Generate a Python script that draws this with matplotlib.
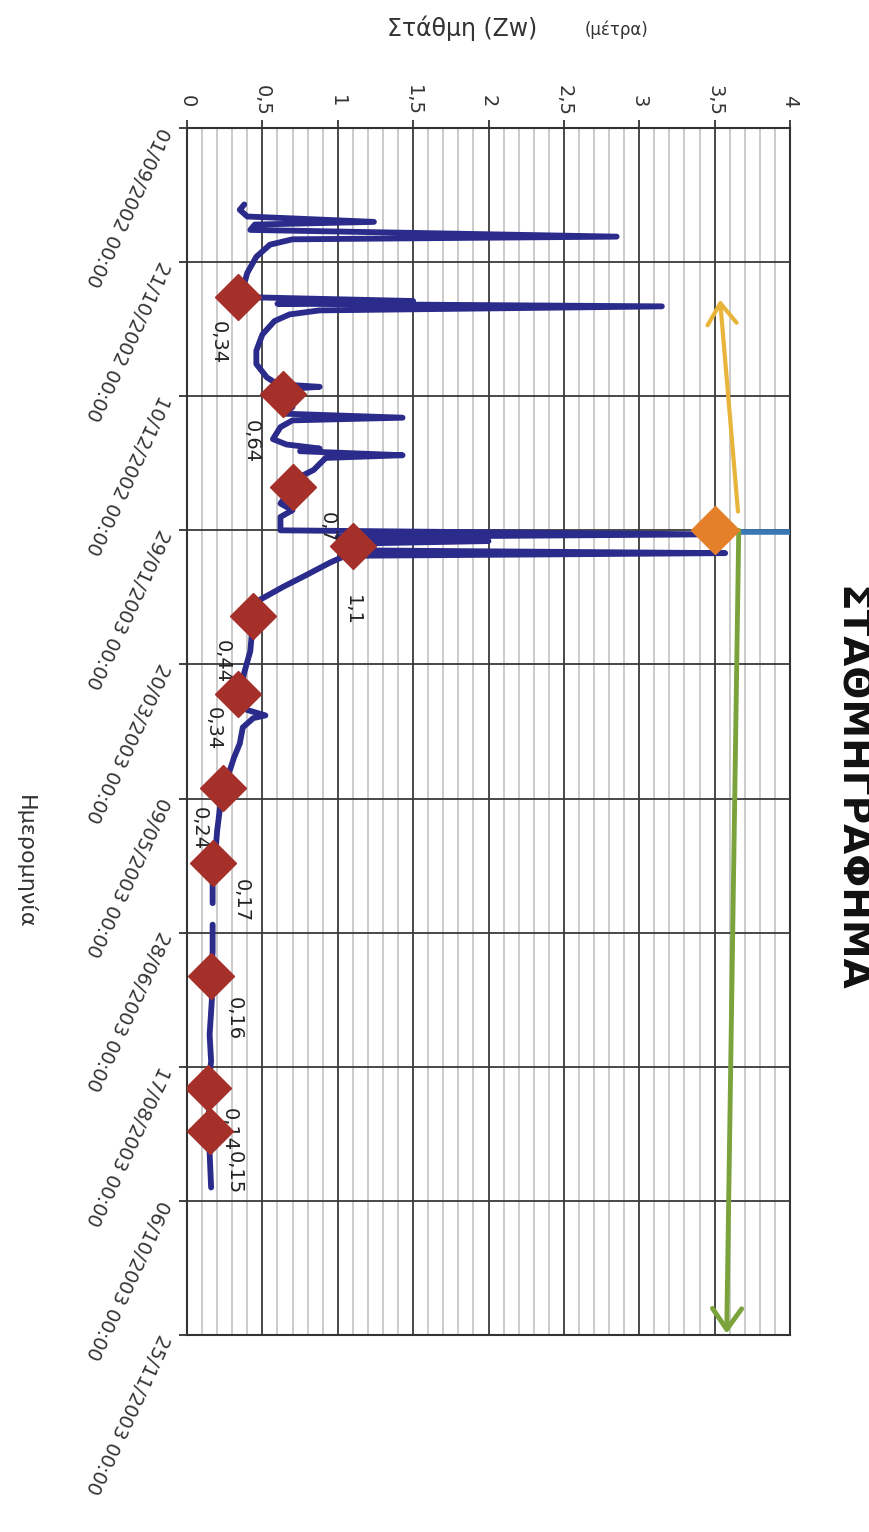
import matplotlib
matplotlib.use('Agg')
import matplotlib.pyplot as plt
import matplotlib.dates as mdates
import numpy as np
import pandas as pd
from matplotlib.ticker import MultipleLocator

plt.rcParams['font.family'] = ['DejaVu Sans']

# water level series (Zw, m) - None marks a gap in the record
level_dates = [
    '2002-09-29 12:00', '2002-10-01 12:00', '2002-10-04', '2002-10-06', '2002-10-07',
    '2002-10-09', '2002-10-11 12:00', '2002-10-12 12:00', '2002-10-14 12:00', '2002-10-19',
    '2002-10-25', '2002-10-29', '2002-11-03', '2002-11-04 12:00', '2002-11-05 12:00',
    '2002-11-06 12:00', '2002-11-08', '2002-11-09 12:00', '2002-11-12', '2002-11-17',
    '2002-11-23', '2002-11-28', '2002-12-03', '2002-12-05 12:00', '2002-12-06 12:00',
    '2002-12-07 12:00', '2002-12-09', '2002-12-14', '2002-12-16 12:00', '2002-12-18',
    '2002-12-19', '2002-12-21 12:00', '2002-12-26', '2002-12-28', '2002-12-29 12:00',
    '2002-12-30 12:00', '2003-01-01', '2003-01-02', '2003-01-06 12:00', '2003-01-09',
    '2003-01-13', '2003-01-19', '2003-01-21 12:00', '2003-01-24', '2003-01-29',
    '2003-01-30 12:00', '2003-01-31 12:00', '2003-02-02', '2003-02-03', '2003-02-04',
    '2003-02-05 12:00', '2003-02-06 12:00', '2003-02-07 12:00', '2003-02-10', '2003-02-15',
    '2003-02-19', '2003-02-24', '2003-03-01', '2003-03-02', '2003-03-15',
    '2003-03-23', '2003-03-28', '2003-03-31', '2003-04-06', '2003-04-08',
    '2003-04-09', '2003-04-12 12:00', '2003-04-18 12:00', '2003-04-24', '2003-04-27 12:00',
    '2003-05-05', '2003-05-12', '2003-05-21', '2003-05-28', '2003-06-02',
    '2003-06-04', '2003-06-06', '2003-06-09', '2003-06-17', '2003-06-21',
    '2003-06-25', '2003-07-05', '2003-07-14', '2003-07-23', '2003-08-05',
    '2003-08-15', '2003-08-25', '2003-09-10', '2003-09-18', '2003-10-01',
]
level_values = [
    0.38, 0.35, 0.40, 1.24, 0.45,
    0.42, 2.85, 0.70, 0.55, 0.46,
    0.40, 0.38, 0.34, 1.50, 0.60,
    3.15, 0.88, 0.68, 0.58, 0.50,
    0.46, 0.46, 0.53, 0.60, 0.88,
    0.60, 0.64, 0.70, 0.64, 1.43,
    0.70, 0.62, 0.57, 0.66, 0.88,
    0.75, 1.43, 0.92, 0.84, 0.75,
    0.70, 0.62, 0.70, 0.62, 0.62,
    3.45, 1.00, 2.00, 1.05, 1.10,
    1.20, 3.57, 1.05, 0.95, 0.78,
    0.64, 0.48, 0.43, 0.44, 0.42,
    0.38, 0.36, 0.34, 0.40, 0.52,
    0.44, 0.37, 0.35, 0.31, 0.29,
    0.24, 0.22, 0.20, 0.19, 0.17,
    0.17, None, 0.17, 0.17, None,
    0.17, 0.17, 0.16, 0.165, 0.15,
    0.16, 0.14, 0.15, 0.15, 0.16,
]

# measured points
point_dates = ['2002-11-03', '2002-12-09', '2003-01-13', '2003-02-04', '2003-03-02',
               '2003-03-31', '2003-05-05', '2003-06-02', '2003-07-14', '2003-08-25',
               '2003-09-10']
point_values = [0.34, 0.64, 0.70, 1.10, 0.44, 0.34, 0.24, 0.17, 0.16, 0.14, 0.15]
point_labels = ['0,34', '0,64', '0,7', '1,1', '0,44', '0,34', '0,24', '0,17', '0,16',
                '0,14', '0,15']
# label offsets in pixels (right, down)
label_offsets = [(-20, 46), (-32, 48), (35, 40), (0, 64), (-31, 45), (-25, 35),
                 (-24, 41), (29, 38), (23, 43), (21, 41), (25, 41)]

peak_date = '2003-01-29'
peak_value = 3.5

# drawn markers
marker_line_values = [3.655, 4.0]
marker_line_date = '2003-01-29 16:00'
up_arrow = [(3.655, '2003-01-22'), (3.536, '2002-11-04')]
down_arrow = [(3.66, '2003-01-29'), (3.58, '2003-11-24 12:00')]

tick_dates = ['2002-09-01', '2002-10-21', '2002-12-10', '2003-01-29', '2003-03-20',
              '2003-05-09', '2003-06-28', '2003-08-17', '2003-10-06', '2003-11-25']
value_ticks = [0, 0.5, 1, 1.5, 2, 2.5, 3, 3.5, 4]
value_tick_labels = ['0', '0,5', '1', '1,5', '2', '2,5', '3', '3,5', '4']


def dnum(s):
    return mdates.date2num(pd.to_datetime(s))


fig = plt.figure(figsize=(8.7, 15.32), dpi=100)
ax = fig.add_axes([187 / 870, 1 - 1335 / 1532, 603 / 870, 1207 / 1532])

lv = np.array(level_values, dtype=float)
ld = np.array([dnum(s) for s in level_dates])
ax.plot(lv, ld, color='#2b2b8c', lw=4.2, solid_capstyle='round',
        solid_joinstyle='round', zorder=3)

pd_num = [dnum(s) for s in point_dates]
for v, d, lab, (dx, dy) in zip(point_values, pd_num, point_labels, label_offsets):
    ax.annotate(lab, (v, d), xytext=(dx * 0.72, -dy * 0.72), textcoords='offset points',
                rotation=-90, ha='center', va='center', fontsize=14, color='#222222',
                zorder=4)
ax.plot(point_values, pd_num, linestyle='none', marker='D', ms=23,
        color='#a5302a', mec='#a5302a', zorder=5)

ax.plot(marker_line_values, [dnum(marker_line_date)] * 2, color='#3a78b5', lw=4, zorder=4)
ax.annotate('', xy=(up_arrow[1][0], dnum(up_arrow[1][1])),
            xytext=(up_arrow[0][0], dnum(up_arrow[0][1])),
            arrowprops=dict(arrowstyle='->, head_length=0.5, head_width=0.35',
                            color='#e8b53a', lw=3, mutation_scale=30,
                            shrinkA=0, shrinkB=0), zorder=6)
ax.annotate('', xy=(down_arrow[1][0], dnum(down_arrow[1][1])),
            xytext=(down_arrow[0][0], dnum(down_arrow[0][1])),
            arrowprops=dict(arrowstyle='->, head_length=0.5, head_width=0.35',
                            color='#7ba33c', lw=3.5, mutation_scale=30,
                            shrinkA=0, shrinkB=0), zorder=6)
ax.plot([peak_value], [dnum(peak_date)], linestyle='none', marker='D', ms=24,
        color='#e4802a', mec='#e4802a', zorder=7)

# axes
ax.set_xlim(0, 4)
ax.set_ylim(dnum(tick_dates[-1]), dnum(tick_dates[0]))
ax.xaxis.tick_top()
ax.set_xticks(value_ticks)
ax.set_xticklabels(value_tick_labels, rotation=-90, ha='center', va='center',
                   fontsize=14, color='#333333')
ax.xaxis.set_minor_locator(MultipleLocator(0.1))
ax.set_yticks([dnum(s) for s in tick_dates])
ax.set_yticklabels([pd.Timestamp(s).strftime('%d/%m/%Y %H:%M') for s in tick_dates],
                   rotation=245, rotation_mode='anchor', ha='left', va='center',
                   fontsize=14, color='#333333')
ax.tick_params(axis='x', which='major', direction='out', length=6, width=1.3,
               pad=13.5, colors='#333333')
ax.tick_params(axis='x', which='minor', length=0)
ax.tick_params(axis='y', which='major', direction='out', length=6, width=1.3,
               pad=11, colors='#333333')

ax.set_axisbelow(True)
ax.grid(which='minor', axis='x', color='#bdbdbd', lw=1.1)
ax.grid(which='major', axis='both', color='#3a3a3a', lw=1.3)
for sp in ax.spines.values():
    sp.set_color('#333333')
    sp.set_linewidth(1.5)

fig.text(462 / 870, 1 - 28 / 1532, 'Στάθμη (Zw)', ha='center', va='center',
         fontsize=17, color='#333333')
fig.text(617 / 870, 1 - 30 / 1532, '(μέτρα)', ha='center', va='center',
         fontsize=12, color='#333333')
fig.text(25 / 870, 1 - 862 / 1532, 'Ημερομηνία', ha='center', va='center',
         rotation=-90, fontsize=16, color='#333333')
fig.text(850 / 870, 1 - 789 / 1532, 'ΣΤΑΘΜΗΓΡΑΦΗΜΑ', ha='center', va='center',
         rotation=-90, fontsize=28, fontweight='bold', color='#111111')

fig.savefig('out.png', dpi=100)
